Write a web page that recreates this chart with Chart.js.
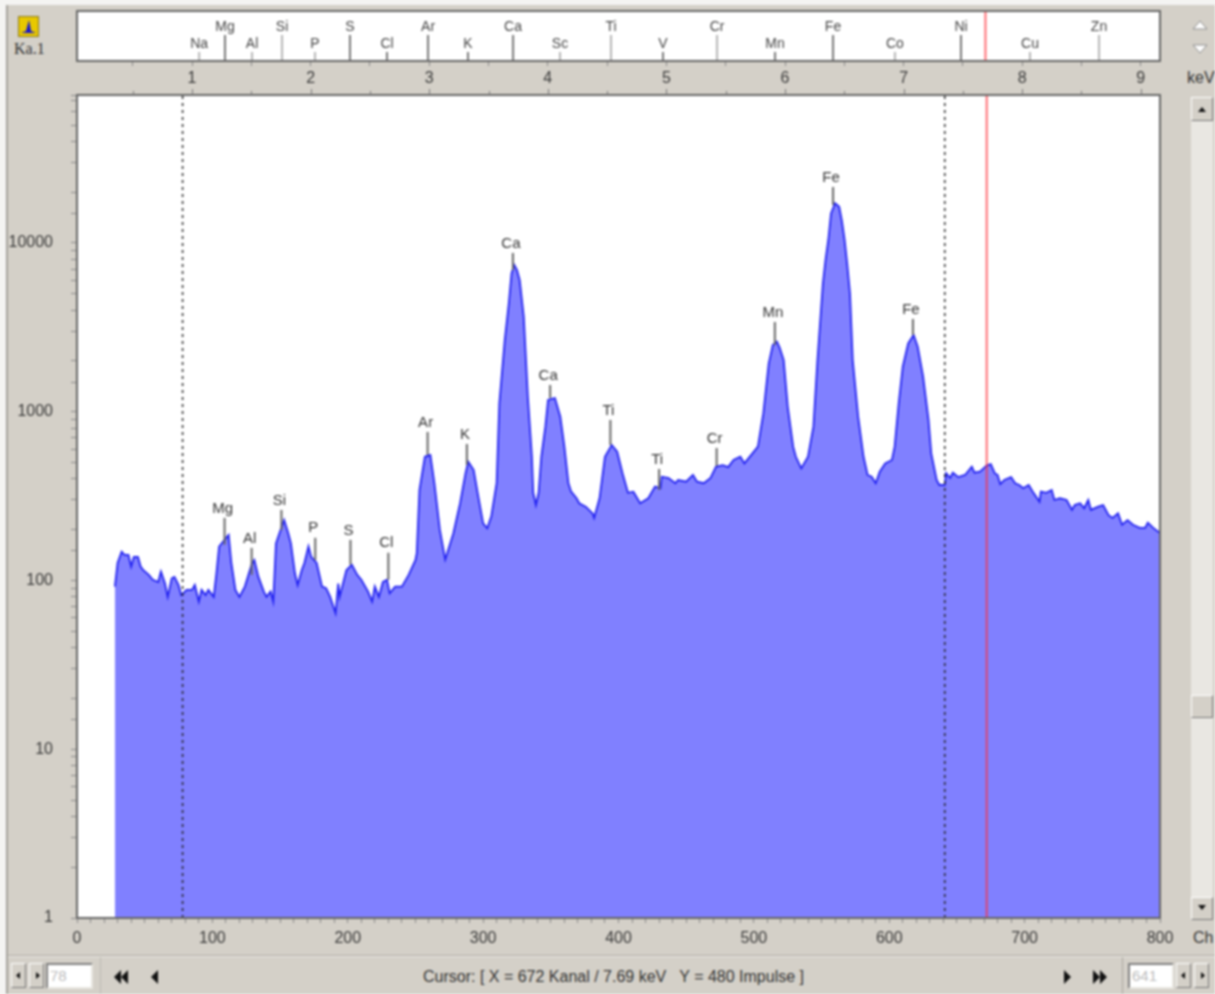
<!DOCTYPE html>
<html>
<head>
<meta charset="utf-8">
<script src="https://cdn.jsdelivr.net/npm/chart.js@4/dist/chart.umd.min.js"></script>
<style>
  html, body { margin: 0; padding: 0; background: #f4f4f2; overflow: hidden; }
  #win { position: absolute; left: 0; top: 0; width: 1215px; height: 994px; overflow: hidden; filter: blur(0.8px);
         font-family: "Liberation Sans", Arial, sans-serif; color: #333; }
  #bg { position: absolute; left: 6px; top: 5px; right: 0; bottom: 0; background: #d4d0c8; border-left: 2px solid #a5a29b; }
  canvas { position: absolute; left: 0; top: 0; }
  .abs { position: absolute; }
  .btn { position: absolute; background: #d4d0c8; box-sizing: border-box; border: 1px solid; border-color: #fff #777 #777 #fff; }
  .field { position: absolute; background: #fff; box-sizing: border-box; border: 2px solid; border-color: #808080 #e8e6e0 #e8e6e0 #808080;
           color: #bbb; font-size: 15px; line-height: 22px; padding-left: 2px; }
  .txt { position: absolute; white-space: nowrap; font-size: 15px; }
</style>
</head>
<body>
<div id="win">
  <div id="bg"></div>

  <svg class="abs" style="left:18px;top:16px" width="21" height="21">
    <rect x="0.5" y="0.5" width="20" height="20" fill="#e8c800" stroke="#8a7a20"/>
    <path d="M3 17 L8 15 L11 4 L13 15 L18 17 Z" fill="#1414d0"/>
  </svg>
  <div class="txt" style="left:14px;top:40px;font-family:'Liberation Serif',serif;font-size:16px">Ka.1</div>

  <svg class="abs" style="left:1190px;top:17px" width="20" height="40">
    <path d="M3 12 L10 4 L17 12 Z" fill="#fff" stroke="#8b8b8b"/>
    <path d="M3 28 L17 28 L10 36 Z" fill="#fff" stroke="#8b8b8b"/>
  </svg>
  <div class="txt" style="left:1187px;top:69px;font-size:16px">keV</div>

  <div class="abs" style="left:1191px;top:97px;width:22px;height:823px;background:#e9e7e2"></div>
  <div class="btn" style="left:1191px;top:97px;width:22px;height:24px"></div>
  <svg class="abs" style="left:1196px;top:105px" width="12" height="8"><path d="M2 7 L10 7 L6 2 Z" fill="#111"/></svg>
  <div class="btn" style="left:1191px;top:695px;width:22px;height:23px"></div>
  <div class="btn" style="left:1191px;top:897px;width:22px;height:23px"></div>
  <svg class="abs" style="left:1196px;top:904px" width="12" height="8"><path d="M2 1 L10 1 L6 6 Z" fill="#111"/></svg>
  <div class="txt" style="left:1193px;top:929px;font-size:16px">Ch</div>

  <div class="abs" style="left:8px;top:955px;right:0;height:1px;background:#a9a69f"></div>
  <div class="abs" style="left:8px;top:956px;right:0;height:1px;background:#f0eee9"></div>
  <div class="abs" style="left:100px;top:957px;width:1px;height:37px;background:#bdbab3"></div>
  <div class="abs" style="left:1122px;top:957px;width:1px;height:37px;background:#a9a69f"></div>

  <div class="btn" style="left:11px;top:963px;width:15px;height:25px"></div>
  <div class="btn" style="left:29px;top:963px;width:15px;height:25px"></div>
  <svg class="abs" style="left:11px;top:963px" width="34" height="25">
    <path d="M9 9 L5 12.5 L9 16 Z" fill="#111"/><path d="M25 9 L29 12.5 L25 16 Z" fill="#111"/>
  </svg>
  <div class="field" style="left:46px;top:963px;width:47px;height:26px">78</div>

  <svg class="abs" style="left:112px;top:968px" width="50" height="18">
    <path d="M9 2 L2 9 L9 16 Z M16 2 L9 9 L16 16 Z" fill="#111"/>
    <path d="M46 2 L39 9 L46 16 Z" fill="#111"/>
  </svg>
  <div class="txt" id="cursorText" style="left:423px;top:968px;font-size:16px">Cursor: [ X = 672 Kanal / 7.69 keV &nbsp; Y = 480 Impulse ]</div>
  <svg class="abs" style="left:1060px;top:968px" width="50" height="18">
    <path d="M4 2 L11 9 L4 16 Z" fill="#111"/>
    <path d="M33 2 L40 9 L33 16 Z M40 2 L47 9 L40 16 Z" fill="#111"/>
  </svg>
  <div class="field" style="left:1128px;top:963px;width:46px;height:26px">641</div>
  <div class="btn" style="left:1176px;top:963px;width:15px;height:25px"></div>
  <div class="btn" style="left:1194px;top:963px;width:15px;height:25px"></div>
  <svg class="abs" style="left:1176px;top:963px" width="34" height="25">
    <path d="M9 9 L5 12.5 L9 16 Z" fill="#111"/><path d="M25 9 L29 12.5 L25 16 Z" fill="#111"/>
  </svg>

  <canvas id="spectrum" width="1215" height="994"></canvas>
  <canvas id="lines" width="1215" height="95"></canvas>
</div>

<script>
// spectrum (channel / impulses)
const channels = [28, 30, 33, 35, 38, 40, 42, 45, 47, 49, 53, 56, 60, 62, 65, 67, 70, 72, 75, 77, 81, 85, 87, 90, 92, 95, 97, 101, 103,
  105, 109, 112, 114, 117, 120, 124, 129, 131, 134, 138, 140, 143, 145, 147, 150, 153, 156, 158, 161, 163, 166, 168, 171, 173, 177,
  181, 184, 187, 191, 193, 194, 199, 203, 207, 210, 215, 218, 220, 223, 226, 229, 231, 235, 240, 245, 250, 251, 253, 257, 261, 264, 268,
  272, 278, 283, 287, 289, 293, 296, 300, 303, 306, 310, 312, 316, 319, 321, 323, 325, 327, 330, 333, 336, 337, 339, 341, 343, 346, 348,
  353, 357, 360, 363, 365, 369, 371, 376, 381, 382, 386, 390, 395, 399, 403, 407, 411, 416, 422, 427, 431, 432, 437, 442, 444, 450, 455, 458,
  463, 468, 472, 477, 481, 485, 490, 493, 499, 503, 507, 511, 514, 517, 519, 522, 525, 529, 531, 535, 540, 544, 547, 551, 553, 555, 557, 560, 563,
  565, 567, 569, 571, 573, 577, 581, 584, 587, 590, 593, 597, 602, 604, 607, 610, 614, 618, 621, 625, 629, 631, 635, 637, 641,
  642, 645, 647, 651, 656, 661, 663, 667, 672, 675, 678, 680, 682, 685, 690, 693, 696, 699, 703, 706, 711, 712, 716, 720, 722,
  726, 731, 735, 737, 741, 744, 747, 749, 754, 758, 762, 765, 769, 772, 776, 780, 785, 789, 791, 795, 800];
const counts = [92, 127, 148, 142, 142, 121, 138, 138, 121, 115, 108, 101, 98, 113, 96, 80, 103, 105, 94, 82, 88, 88, 94, 75, 88, 82, 88, 80, 110,
  159, 174, 186, 127, 88, 80, 92, 124, 132, 105, 86, 80, 86, 75, 166, 195, 228, 191, 166, 110, 94, 115, 127, 159, 138, 127,
  92, 90, 80, 64, 96, 80, 115, 124, 108, 101, 86, 75, 92, 80, 98, 101, 84, 92, 92, 108, 132, 145, 344, 541, 554, 377, 200,
  133, 190, 287, 431, 506, 451, 328, 218, 204, 239, 377, 1122, 2660, 4395, 6600, 7410, 6900, 6030, 3656, 1230, 541, 331, 280, 331, 541, 816, 1175,
  1205, 935, 621, 377, 336, 307, 287, 273, 249, 235, 307, 541, 635, 580, 431, 331, 336, 287, 307, 360, 352, 412, 405, 377, 394, 385, 422, 385,
  377, 405, 472, 483, 470, 518, 541, 494, 567, 621, 978, 1936, 2485, 2600, 2400, 2024, 1070, 621, 541, 462, 541, 816, 2024, 5757, 8000, 10420, 14960, 17200, 16400,
  13500, 10420, 7400, 5000, 2024, 935, 541, 422, 412, 377, 441, 494, 518, 621, 1122, 1849, 2540, 2850, 2430, 1614, 893, 567, 394, 368, 368,
  432, 405, 435, 410, 422, 472, 435, 441, 480, 490, 431, 422, 373, 394, 410, 377, 368, 352, 368, 336, 293, 336, 331, 344, 300,
  307, 300, 262, 280, 287, 268, 300, 262, 273, 280, 244, 235, 250, 214, 228, 214, 205, 205, 220, 205, 191];

// labelled peaks in the spectrum
const peakNames = ['Mg', 'Al', 'Si', 'P', 'S', 'Cl', 'Ar', 'K', 'Ca', 'Ca', 'Ti', 'Ti', 'Cr', 'Mn', 'Fe', 'Fe'];
const peakChannels = [109, 129, 151, 176, 202, 230, 259, 288, 322, 349.5, 394, 430, 472.5, 515.5, 558.5, 617.5];
const peakStemTop = [235, 156, 262, 179, 174, 146, 759, 644, 8730, 1441, 894, 458, 610, 3404, 21470, 3548];
const peakStemBottom = [163, 108, 199, 132, 124, 101, 554, 484, 6920, 1206, 635, 344, 477, 2485, 16800, 2851];

// element lines in the top strip
const lineNames = ['Na', 'Mg', 'Al', 'Si', 'P', 'S', 'Cl', 'Ar', 'K', 'Ca', 'Sc', 'Ti', 'V', 'Cr', 'Mn', 'Fe', 'Co', 'Ni', 'Cu', 'Zn'];
const lineEnergies = [1.06, 1.278, 1.506, 1.759, 2.037, 2.332, 2.644, 2.99, 3.327, 3.707, 4.103, 4.533, 4.971, 5.427, 5.916, 6.405, 6.927, 7.484, 8.066, 8.648];
const lineHeights = [0.18, 0.52, 0.18, 0.52, 0.18, 0.52, 0.18, 0.52, 0.18, 0.52, 0.18, 0.52, 0.18, 0.52, 0.18, 0.52, 0.18, 0.52, 0.18, 0.52];
const paleLines = ['Na', 'Al', 'Si', 'P', 'Sc', 'Ti', 'Cr', 'Co', 'Cu', 'Zn'];

const regionStart = 78;
const regionEnd = 641;
const cursorChannel = 672;
const cursorEnergy = 7.69;

const yMax = 75340;
const keVMin = 0.03;
const keVMax = 9.162;
const axisFont = { family: '"Liberation Sans", Arial, sans-serif', size: 16 };
const CURSOR_RED = 'rgba(255, 45, 55, 0.7)';

Chart.defaults.animation = false;

const plotBox = {
  id: 'plotBox',
  beforeDraw(chart) {
    const a = chart.chartArea;
    chart.ctx.save();
    chart.ctx.fillStyle = '#fff';
    chart.ctx.fillRect(a.left, a.top, a.width, a.height);
    chart.ctx.restore();
  },
  afterDraw(chart) {
    const a = chart.chartArea;
    const ctx = chart.ctx;
    ctx.save();
    ctx.strokeStyle = '#666';
    ctx.lineWidth = 2;
    ctx.strokeRect(a.left, a.top, a.width, a.height);
    ctx.restore();
  }
};

// names above the stems, inside the plot
const peakLabels = {
  id: 'peakLabels',
  afterDatasetsDraw(chart) {
    const ctx = chart.ctx;
    ctx.save();
    ctx.font = '15px "Liberation Sans", Arial, sans-serif';
    ctx.fillStyle = '#333';
    ctx.textAlign = 'center';
    ctx.textBaseline = 'bottom';
    peakNames.forEach((name, i) => {
      const x = chart.scales.x.getPixelForValue(peakChannels[i]);
      const y = chart.scales.y.getPixelForValue(peakStemTop[i]);
      ctx.fillText(name, x - 2, y - 2);
    });
    ctx.restore();
  }
};

const lineLabels = {
  id: 'lineLabels',
  afterDatasetsDraw(chart) {
    const ctx = chart.ctx;
    ctx.save();
    ctx.font = '14px "Liberation Sans", Arial, sans-serif';
    ctx.fillStyle = '#444';
    ctx.textAlign = 'center';
    ctx.textBaseline = 'bottom';
    lineNames.forEach((name, i) => {
      const x = chart.scales.x.getPixelForValue(lineEnergies[i]);
      const y = chart.scales.y.getPixelForValue(lineHeights[i]);
      ctx.fillText(name, x, y - 1);
    });
    ctx.restore();
  },
  // keV ticks sitting on top of the main plot
  afterDraw(chart) {
    const ctx = chart.ctx;
    const sc = chart.scales.x;
    ctx.save();
    ctx.strokeStyle = '#777';
    sc.ticks.forEach(t => {
      const x = Math.round(sc.getPixelForValue(t.value)) + 0.5;
      ctx.beginPath();
      ctx.moveTo(x, Number.isInteger(t.value) ? 89 : 91);
      ctx.lineTo(x, 95);
      ctx.stroke();
    });
    ctx.restore();
  }
};

function vLine(x, y0, y1, color, width, dash) {
  return {
    data: [{ x: x, y: y0 }, { x: x, y: y1 }],
    borderColor: color,
    borderWidth: width,
    borderDash: dash || [],
    pointRadius: 0,
    fill: false,
    order: 1
  };
}

const spectrumSet = {
  data: channels.map((c, i) => ({ x: c, y: counts[i] })),
  borderColor: '#2020f0',
  borderWidth: 1.8,
  backgroundColor: '#8080ff',
  fill: 'start',
  pointRadius: 0,
  tension: 0,
  order: 10
};

new Chart(document.getElementById('spectrum'), {
  type: 'line',
  data: {
    datasets: [
      spectrumSet,
      vLine(regionStart, 1, yMax, '#222', 1.5, [3, 4]),
      vLine(regionEnd, 1, yMax, '#222', 1.5, [3, 4]),
      vLine(cursorChannel, 1, yMax, CURSOR_RED, 2)
    ].concat(peakChannels.map((c, i) => vLine(c, peakStemBottom[i], peakStemTop[i], '#666', 2)))
  },
  options: {
    responsive: false,
    layout: { padding: { left: 0, right: 55, top: 95, bottom: 0 } },
    plugins: { legend: { display: false }, tooltip: { enabled: false } },
    scales: {
      x: {
        type: 'linear',
        min: 0,
        max: 800,
        afterFit(scale) { scale.height = 76; },
        grid: { drawOnChartArea: false, tickLength: 5, tickColor: '#888' },
        border: { display: false },
        ticks: {
          stepSize: 10,
          autoSkip: false,
          maxRotation: 0,
          padding: 6,
          color: '#3a3a3a',
          font: axisFont,
          callback: v => (v % 100 === 0 ? String(v) : '')
        }
      },
      y: {
        type: 'logarithmic',
        min: 1,
        max: yMax,
        afterFit(scale) { scale.width = 77; },
        grid: { drawOnChartArea: false, tickLength: 6, tickColor: '#888' },
        border: { display: false },
        ticks: {
          autoSkip: false,
          padding: 18,
          color: '#3a3a3a',
          font: axisFont,
          callback: v => (Number.isInteger(Math.log10(v)) ? String(v) : '')
        }
      }
    }
  },
  plugins: [plotBox, peakLabels]
});

new Chart(document.getElementById('lines'), {
  type: 'line',
  data: {
    datasets: lineEnergies.map((e, i) => vLine(e, 0, lineHeights[i], paleLines.includes(lineNames[i]) ? '#b5b5b5' : '#777', 2))
      .concat([vLine(cursorEnergy, 0, 1, CURSOR_RED, 2)])
  },
  options: {
    responsive: false,
    layout: { padding: { left: 77, right: 55, top: 11, bottom: 0 } },
    plugins: { legend: { display: false }, tooltip: { enabled: false } },
    scales: {
      x: {
        type: 'linear',
        min: keVMin,
        max: keVMax,
        afterFit(scale) { scale.height = 34; },
        grid: { drawOnChartArea: false, tickLength: 5, tickColor: '#888' },
        border: { display: false },
        ticks: {
          stepSize: 0.5,
          includeBounds: false,
          autoSkip: false,
          maxRotation: 0,
          padding: 3,
          color: '#3a3a3a',
          font: axisFont,
          callback: v => (Number.isInteger(v) ? String(v) : '')
        }
      },
      y: { type: 'linear', min: 0, max: 1, display: false }
    }
  },
  plugins: [plotBox, lineLabels]
});
</script>
</body>
</html>
